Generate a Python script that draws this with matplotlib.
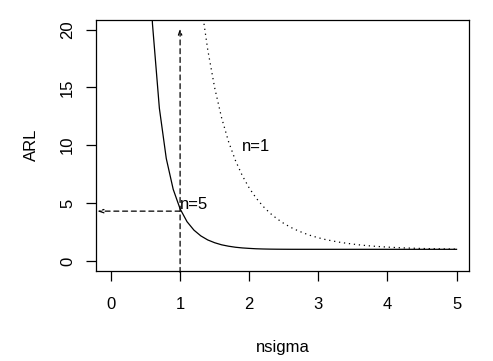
import matplotlib
matplotlib.use("Agg")
import matplotlib.pyplot as plt

plt.rcParams['font.family'] = ['Liberation Sans', 'DejaVu Sans']

# n = 1 (dotted)
nsigma_n1 = [1.0, 1.1, 1.2, 1.3, 1.4, 1.5, 1.6, 1.7, 1.8, 1.9, 2.0, 2.1, 2.2, 2.3, 2.4,
             2.5, 2.6, 2.7, 2.8, 2.9, 3.0, 3.1, 3.2, 3.3, 3.4, 3.5, 3.6, 3.7, 3.8, 3.9,
             4.0, 4.1, 4.2, 4.3, 4.4, 4.5, 4.6, 4.7, 4.8, 4.9, 5.0]
arl_n1 = [43.9, 34.8, 27.8, 22.4, 18.25, 14.97, 12.38, 10.33, 8.69, 7.37, 6.30, 5.43,
          4.72, 4.13, 3.65, 3.24, 2.90, 2.62, 2.38, 2.17, 2.00, 1.85, 1.73, 1.62, 1.53,
          1.45, 1.38, 1.32, 1.27, 1.23, 1.19, 1.16, 1.13, 1.11, 1.09, 1.07, 1.06, 1.05,
          1.04, 1.03, 1.02]

# n = 5 (solid)
nsigma_n5 = [0.4, 0.5, 0.6, 0.7, 0.8, 0.9, 1.0, 1.1, 1.2, 1.3, 1.4, 1.5, 1.6, 1.7, 1.8,
             1.9, 2.0, 2.1, 2.2, 2.3, 2.4, 2.5, 2.6, 2.7, 3.0, 3.5, 4.0, 4.5, 5.0]
arl_n5 = [56.7, 33.4, 20.5, 13.2, 8.85, 6.19, 4.50, 3.39, 2.66, 2.16, 1.81, 1.57, 1.39,
          1.27, 1.18, 1.12, 1.08, 1.047, 1.028, 1.016, 1.009, 1.005, 1.002, 1.001,
          1.0, 1.0, 1.0, 1.0, 1.0]

x_ticks = [0, 1, 2, 3, 4, 5]
y_ticks = [0, 5, 10, 15, 20]

arrow_x = 1.0
arrow_y = 4.3

fig = plt.figure(figsize=(4.93, 3.61), dpi=100)
ax = fig.add_axes([0.1947, 0.2501, 0.952 - 0.1947, 0.9454 - 0.2501])

lw = 0.9
ax.plot(nsigma_n5, arl_n5, color='black', lw=lw, ls='-')
ax.plot(nsigma_n1, arl_n1, color='black', lw=lw, ls=(0, (1, 3)))

ax.annotate('', xy=(arrow_x, 20.1), xytext=(arrow_x, -1.0),
            arrowprops=dict(arrowstyle='->,head_length=0.35,head_width=0.12',
                            lw=lw, ls=(0, (4, 3)), color='black', shrinkA=0, shrinkB=0))
ax.annotate('', xy=(-0.2, arrow_y), xytext=(arrow_x, arrow_y),
            arrowprops=dict(arrowstyle='->,head_length=0.35,head_width=0.12',
                            lw=lw, ls=(0, (4, 3)), color='black', shrinkA=0, shrinkB=0))

fs = 12
ax.text(1.2, 4.85, 'n=5', fontsize=fs, ha='center', va='center')
ax.text(2.1, 9.9, 'n=1', fontsize=fs, ha='center', va='center')

ax.set_xlim(-0.217, 5.185)
ax.set_ylim(-0.85, 20.85)
ax.set_xticks(x_ticks)
ax.set_yticks(y_ticks)
ax.set_xticklabels([str(v) for v in x_ticks], fontsize=fs)
ax.set_yticklabels([str(v) for v in y_ticks], fontsize=fs, rotation=90, va='center')
ax.tick_params(direction='out', length=7, width=lw)
ax.tick_params(axis='x', pad=12)
ax.tick_params(axis='y', pad=8)
for s in ax.spines.values():
    s.set_linewidth(lw)

ax.set_xlabel('nsigma', fontsize=fs, labelpad=20)
ax.set_ylabel('ARL', fontsize=fs, labelpad=15)

fig.savefig('out.png', dpi=100)
